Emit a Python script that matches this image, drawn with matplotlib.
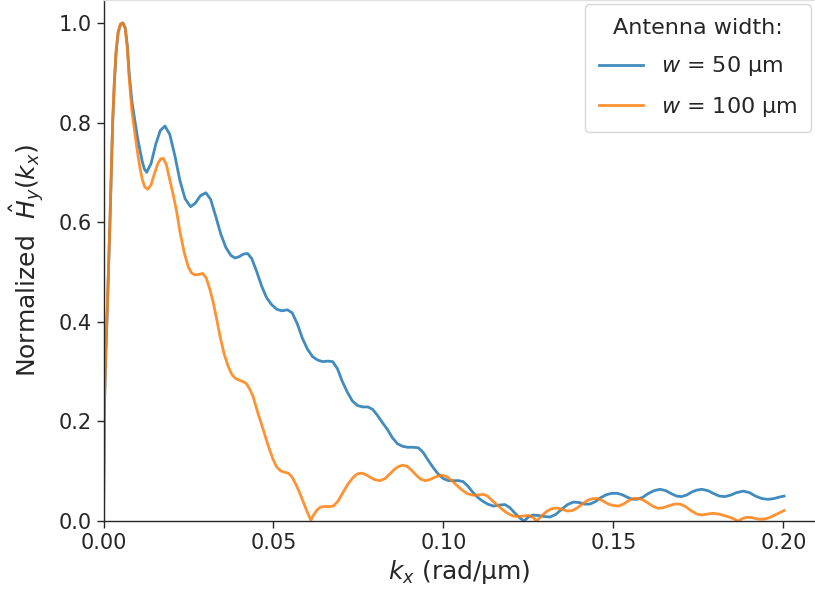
import matplotlib
matplotlib.use("Agg")
import matplotlib.pyplot as plt

# Normalized field spectrum for the w = 50 um antenna
kx_50 = [0.0000, 0.0003, 0.0007, 0.0011, 0.0015, 0.0019, 0.0023, 0.0027, 0.0032, 0.0037,
         0.0043, 0.0050, 0.0057, 0.0064, 0.0070, 0.0076, 0.0084, 0.0093, 0.0100, 0.0107,
         0.0114, 0.0120, 0.0127, 0.0140, 0.0154, 0.0167, 0.0181, 0.0195, 0.0210, 0.0225,
         0.0240, 0.0256, 0.0270, 0.0285, 0.0301, 0.0315, 0.0330, 0.0345, 0.0360, 0.0375,
         0.0387, 0.0400, 0.0412, 0.0424, 0.0436, 0.0450, 0.0465, 0.0480, 0.0495, 0.0510,
         0.0525, 0.0541, 0.0555, 0.0570, 0.0585, 0.0600, 0.0615, 0.0630, 0.0645, 0.0660,
         0.0674, 0.0688, 0.0702, 0.0717, 0.0732, 0.0747, 0.0762, 0.0778, 0.0792, 0.0806,
         0.0820, 0.0835, 0.0850, 0.0865, 0.0880, 0.0895, 0.0910, 0.0926, 0.0940, 0.0955,
         0.0970, 0.0985, 0.1000, 0.1015, 0.1030, 0.1045, 0.1058, 0.1072, 0.1086, 0.1100,
         0.1115, 0.1130, 0.1147, 0.1165, 0.1181, 0.1195, 0.1210, 0.1225, 0.1237, 0.1250,
         0.1264, 0.1280, 0.1297, 0.1313, 0.1330, 0.1347, 0.1365, 0.1382, 0.1400, 0.1415,
         0.1431, 0.1447, 0.1463, 0.1480, 0.1495, 0.1510, 0.1525, 0.1540, 0.1555, 0.1568,
         0.1585, 0.1602, 0.1620, 0.1637, 0.1654, 0.1670, 0.1686, 0.1700, 0.1715, 0.1730,
         0.1745, 0.1760, 0.1778, 0.1795, 0.1812, 0.1828, 0.1845, 0.1862, 0.1882, 0.1900,
         0.1918, 0.1937, 0.1955, 0.1972, 0.1988, 0.2002]
h_50 = [0.000, 0.240, 0.340, 0.420, 0.510, 0.600, 0.700, 0.800, 0.880, 0.940,
        0.980, 0.997, 1.000, 0.990, 0.955, 0.895, 0.840, 0.800, 0.770, 0.745,
        0.722, 0.707, 0.700, 0.718, 0.757, 0.784, 0.793, 0.776, 0.733, 0.683,
        0.647, 0.631, 0.638, 0.653, 0.659, 0.646, 0.612, 0.576, 0.549, 0.533,
        0.528, 0.531, 0.536, 0.537, 0.527, 0.502, 0.472, 0.448, 0.434, 0.425,
        0.422, 0.424, 0.418, 0.396, 0.367, 0.345, 0.330, 0.323, 0.320, 0.321,
        0.320, 0.306, 0.281, 0.259, 0.241, 0.232, 0.229, 0.229, 0.224, 0.212,
        0.198, 0.184, 0.167, 0.155, 0.150, 0.148, 0.148, 0.147, 0.138, 0.122,
        0.107, 0.094, 0.085, 0.081, 0.081, 0.081, 0.079, 0.070, 0.058, 0.048,
        0.040, 0.034, 0.030, 0.032, 0.033, 0.027, 0.016, 0.006, 0.000, 0.008,
        0.012, 0.011, 0.009, 0.008, 0.013, 0.023, 0.033, 0.038, 0.037, 0.034,
        0.034, 0.039, 0.047, 0.053, 0.0555, 0.0556, 0.053, 0.048, 0.044, 0.0435,
        0.047, 0.055, 0.061, 0.0636, 0.061, 0.055, 0.050, 0.049, 0.052, 0.058,
        0.062, 0.0636, 0.061, 0.055, 0.050, 0.049, 0.052, 0.057, 0.060, 0.057,
        0.050, 0.045, 0.0435, 0.045, 0.048, 0.050]

# Normalized field spectrum for the w = 100 um antenna
kx_100 = [0.0000, 0.0003, 0.0007, 0.0011, 0.0015, 0.0019, 0.0023, 0.0027, 0.0032, 0.0037,
          0.0043, 0.0050, 0.0057, 0.0064, 0.0070, 0.0076, 0.0084, 0.0093, 0.0100, 0.0107,
          0.0114, 0.0121, 0.0130, 0.0140, 0.0150, 0.0160, 0.0168, 0.0176, 0.0185, 0.0195,
          0.0205, 0.0215, 0.0225, 0.0237, 0.0249, 0.0259, 0.0269, 0.0280, 0.0292, 0.0302,
          0.0313, 0.0323, 0.0333, 0.0343, 0.0355, 0.0367, 0.0377, 0.0387, 0.0398, 0.0410,
          0.0420, 0.0430, 0.0440, 0.0455, 0.0470, 0.0485, 0.0498, 0.0509, 0.0520, 0.0532,
          0.0544, 0.0555, 0.0565, 0.0575, 0.0585, 0.0595, 0.0603, 0.0610, 0.0618, 0.0628,
          0.0638, 0.0650, 0.0663, 0.0676, 0.0690, 0.0705, 0.0720, 0.0735, 0.0748, 0.0760,
          0.0772, 0.0784, 0.0798, 0.0813, 0.0828, 0.0843, 0.0858, 0.0870, 0.0880, 0.0893,
          0.0906, 0.0920, 0.0933, 0.0946, 0.0960, 0.0975, 0.0995, 0.1010, 0.1025, 0.1040,
          0.1055, 0.1070, 0.1085, 0.1100, 0.1117, 0.1130, 0.1145, 0.1160, 0.1175, 0.1190,
          0.1205, 0.1220, 0.1235, 0.1250, 0.1262, 0.1274, 0.1288, 0.1305, 0.1320, 0.1335,
          0.1350, 0.1365, 0.1380, 0.1395, 0.1410, 0.1425, 0.1440, 0.1455, 0.1470, 0.1485,
          0.1500, 0.1515, 0.1530, 0.1545, 0.1558, 0.1570, 0.1585, 0.1600, 0.1615, 0.1632,
          0.1648, 0.1665, 0.1680, 0.1696, 0.1712, 0.1728, 0.1745, 0.1760, 0.1777, 0.1793,
          0.1810, 0.1825, 0.1840, 0.1855, 0.1867, 0.1880, 0.1892, 0.1905, 0.1918, 0.1931,
          0.1945, 0.1960, 0.1975, 0.1990, 0.2002]
h_100 = [0.000, 0.245, 0.345, 0.425, 0.515, 0.605, 0.705, 0.805, 0.885, 0.945,
         0.982, 0.998, 1.000, 0.988, 0.950, 0.885, 0.820, 0.775, 0.740, 0.710,
         0.686, 0.671, 0.666, 0.675, 0.698, 0.718, 0.727, 0.728, 0.715, 0.685,
         0.655, 0.622, 0.580, 0.540, 0.511, 0.498, 0.494, 0.495, 0.497, 0.488,
         0.465, 0.438, 0.405, 0.370, 0.335, 0.310, 0.295, 0.287, 0.283, 0.280,
         0.276, 0.265, 0.250, 0.215, 0.183, 0.150, 0.125, 0.109, 0.101, 0.098,
         0.096, 0.088, 0.075, 0.060, 0.043, 0.026, 0.012, 0.002, 0.012, 0.022,
         0.028, 0.029, 0.029, 0.030, 0.040, 0.058, 0.075, 0.088, 0.095, 0.096,
         0.093, 0.088, 0.083, 0.081, 0.085, 0.095, 0.105, 0.110, 0.112, 0.110,
         0.102, 0.092, 0.084, 0.081, 0.083, 0.088, 0.092, 0.089, 0.081, 0.071,
         0.062, 0.055, 0.052, 0.052, 0.0535, 0.050, 0.040, 0.031, 0.022, 0.015,
         0.010, 0.009, 0.010, 0.011, 0.008, 0.000, 0.010, 0.020, 0.025, 0.026,
         0.023, 0.020, 0.021, 0.027, 0.035, 0.042, 0.045, 0.045, 0.040, 0.034,
         0.031, 0.030, 0.034, 0.041, 0.045, 0.0455, 0.043, 0.037, 0.030, 0.0255,
         0.027, 0.031, 0.034, 0.034, 0.029, 0.021, 0.014, 0.012, 0.014, 0.0155,
         0.014, 0.011, 0.008, 0.004, 0.000, 0.005, 0.0075, 0.007, 0.005, 0.0035,
         0.004, 0.007, 0.012, 0.017, 0.021]

widths_um = [50, 100]
series_colors = ["#1f77b4", "#ff7f0e"]
x_ticks = [0.00, 0.05, 0.10, 0.15, 0.20]
y_ticks = [0.0, 0.2, 0.4, 0.6, 0.8, 1.0]

text_color = "#262626"
plt.rcParams["font.family"] = ["DejaVu Sans"]

fig = plt.figure(figsize=(8.15, 5.97), dpi=100)
ax = fig.add_axes([0.127, 0.1273, 0.873, 0.8727])

for kx, h, w, c in zip([kx_50, kx_100], [h_50, h_100], widths_um, series_colors):
    ax.plot(kx, h, color=c, lw=2.0, alpha=0.85, label=rf"$w$ = {w} µm")

ax.set_xlim(0, 0.2093)
ax.set_ylim(0, 1.046)
ax.set_xticks(x_ticks)
ax.set_xticklabels([f"{t:.2f}" for t in x_ticks])
ax.set_yticks(y_ticks)
ax.set_yticklabels([f"{t:.1f}" for t in y_ticks])
ax.tick_params(labelsize=15, colors=text_color, length=5, width=1.0)

ax.spines["right"].set_visible(False)
ax.spines["top"].set_color("#e0e0e0")
ax.spines["top"].set_linewidth(1.0)
for s in ("left", "bottom"):
    ax.spines[s].set_color(text_color)
    ax.spines[s].set_linewidth(1.0)

ax.set_xlabel(r"$k_x$ (rad/µm)", fontsize=18, color=text_color, labelpad=4)
ax.set_ylabel(r"Normalized  $\hat{H}_y(k_x)$", fontsize=18, color=text_color, labelpad=8)

leg = ax.legend(title="Antenna width:", fontsize=16, title_fontsize=16,
                loc="upper right", frameon=True, handlelength=2.0,
                borderaxespad=0.2, borderpad=0.6, labelspacing=0.75)
leg.get_frame().set_edgecolor("#cccccc")
for t in leg.get_texts():
    t.set_color(text_color)
leg.get_title().set_color(text_color)

fig.savefig("out.png", dpi=100)
